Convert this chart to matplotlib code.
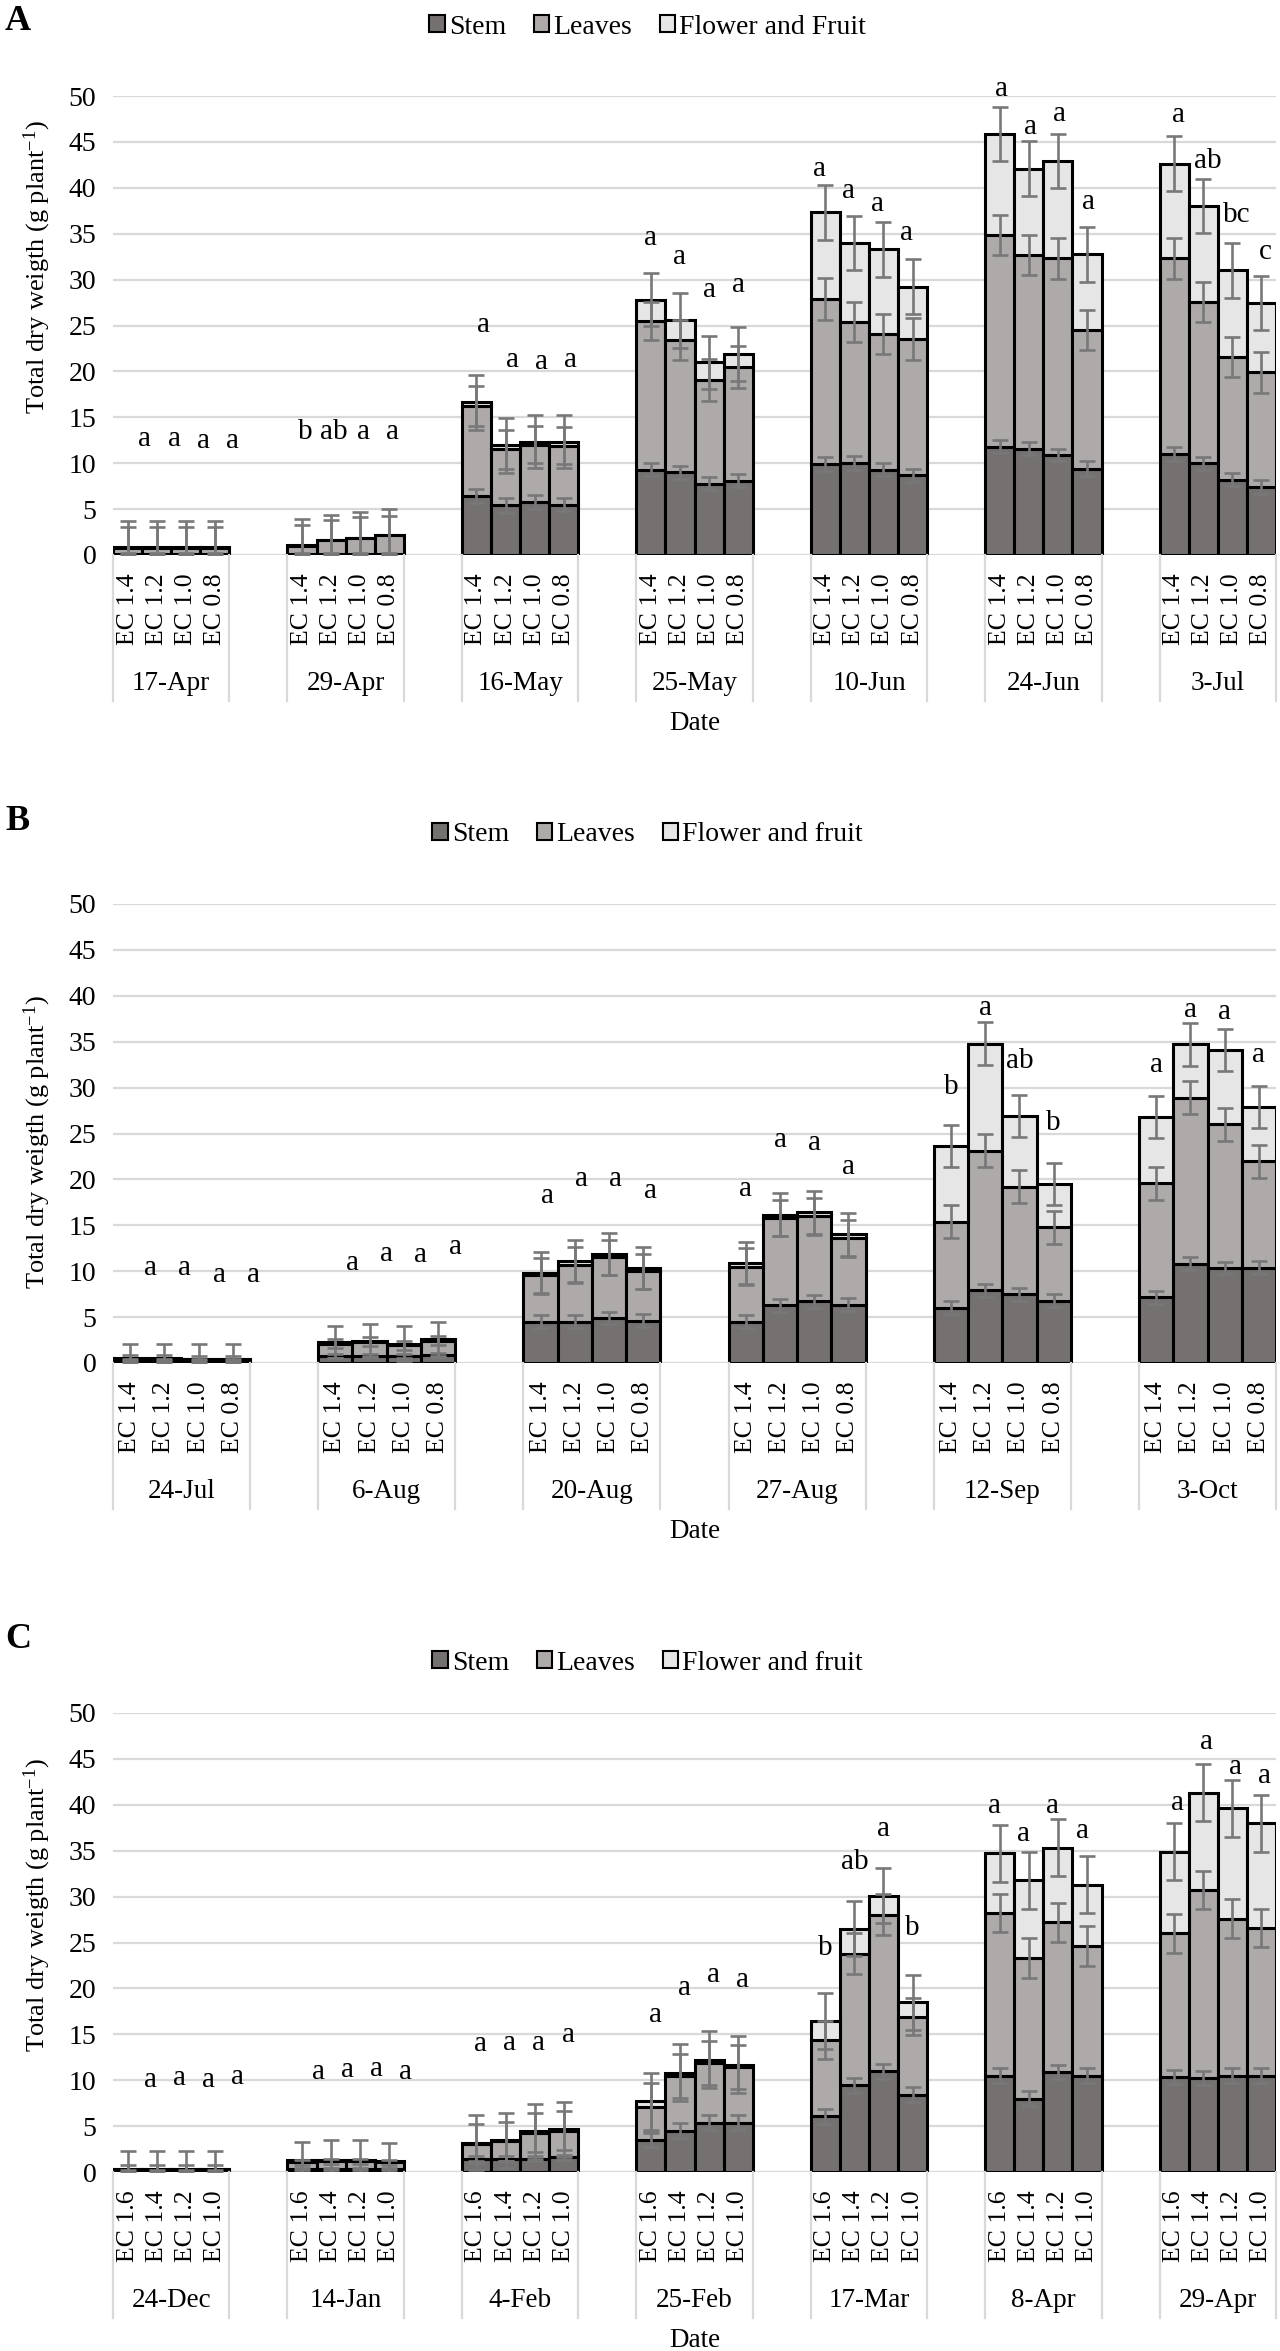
import numpy as np
import matplotlib
matplotlib.use('Agg')
import matplotlib.pyplot as plt
from matplotlib.patches import Patch
from matplotlib.transforms import blended_transform_factory

plt.rcParams['font.family'] = ['Liberation Serif', 'DejaVu Serif']
plt.rcParams['mathtext.fontset'] = 'custom'
plt.rcParams['mathtext.rm'] = 'Liberation Serif'
plt.rcParams['mathtext.it'] = 'Liberation Serif:italic'

# ---------------- panel A ----------------
dates_a = ['17-Apr', '29-Apr', '16-May', '25-May', '10-Jun', '24-Jun', '3-Jul']
ec_a = ['EC 1.4', 'EC 1.2', 'EC 1.0', 'EC 0.8']
stem_a = [0.15, 0.15, 0.15, 0.15,
          0.15, 0.15, 0.15, 0.15,
          6.45, 5.4, 5.8, 5.5,
          9.3, 9.0, 7.75, 8.1,
          9.9, 10.0, 9.3, 8.7,
          11.8, 11.6, 10.9, 9.4,
          11.0, 10.0, 8.2, 7.4]
leaves_a = [0.65, 0.65, 0.65, 0.65,
            0.85, 1.45, 1.65, 2.0,
            9.75, 6.1, 6.2, 6.4,
            16.2, 14.4, 11.35, 12.4,
            17.95, 15.4, 14.8, 14.85,
            23.05, 21.05, 21.4, 15.1,
            21.3, 17.55, 13.35, 12.5]
flower_a = [0.05, 0.05, 0.05, 0.05,
            0.05, 0.05, 0.05, 0.05,
            0.45, 0.43, 0.36, 0.46,
            2.3, 2.15, 1.9, 1.35,
            9.5, 8.6, 9.2, 5.65,
            11.0, 9.45, 10.65, 8.25,
            10.3, 10.45, 9.45, 7.55]
err_stem_a = [0.1, 0.1, 0.1, 0.1,
              0.1, 0.1, 0.1, 0.1,
              0.75, 0.8, 0.75, 0.7,
              0.7, 0.7, 0.7, 0.7,
              0.75, 0.75, 0.7, 0.7,
              0.7, 0.7, 0.7, 0.8,
              0.75, 0.7, 0.7, 0.75]
err_leaves_a = [2.2, 2.2, 2.2, 2.2,
                2.3, 2.2, 2.3, 2.1,
                2.2, 2.1, 2.0, 2.0,
                2.1, 2.2, 2.3, 2.3,
                2.3, 2.2, 2.2, 2.3,
                2.2, 2.2, 2.2, 2.2,
                2.2, 2.2, 2.2, 2.2]
err_flower_a = [2.8, 2.8, 2.8, 2.8,
                2.85, 2.75, 2.85, 2.8,
                3.0, 3.0, 2.85, 2.85,
                2.9, 2.95, 2.9, 2.95,
                3.0, 2.95, 3.0, 3.0,
                2.95, 3.0, 2.95, 3.0,
                3.0, 2.95, 3.0, 2.95]
letters_a = ['a', 'a', 'a', 'a',
             'b', 'ab', 'a', 'a',
             'a', 'a', 'a', 'a',
             'a', 'a', 'a', 'a',
             'a', 'a', 'a', 'a',
             'a', 'a', 'a', 'a',
             'a', 'ab', 'bc', 'c']
letter_y_a = [12.6, 12.6, 12.4, 12.4,
              13.4, 13.4, 13.4, 13.4,
              25.0, 21.2, 21.0, 21.2,
              34.5, 32.5, 28.9, 29.4,
              42.1, 39.6, 38.2, 35.1,
              50.8, 46.65, 48.0, 38.5,
              47.9, 42.9, 37.0, 33.0]
letter_dx_a = [0.6, 0.1, 0.25, 0.0, -0.2, 0.05, 0.15]

# ---------------- panel B ----------------
dates_b = ['24-Jul', '6-Aug', '20-Aug', '27-Aug', '12-Sep', '3-Oct']
ec_b = ['EC 1.4', 'EC 1.2', 'EC 1.0', 'EC 0.8']
stem_b = [0.3, 0.3, 0.3, 0.3,
          0.75, 0.8, 0.75, 0.85,
          4.5, 4.5, 4.9, 4.6,
          4.5, 6.3, 6.7, 6.35,
          6.0, 7.9, 7.5, 6.8,
          7.15, 10.8, 10.35, 10.4]
leaves_b = [0.15, 0.15, 0.1, 0.1,
            1.35, 1.5, 1.2, 1.6,
            5.05, 6.2, 6.6, 5.4,
            6.0, 9.5, 9.27, 7.25,
            9.4, 15.2, 11.7, 8.0,
            12.45, 18.1, 15.65, 11.6]
flower_b = [0.05, 0.05, 0.05, 0.05,
            0.15, 0.15, 0.15, 0.15,
            0.25, 0.37, 0.37, 0.35,
            0.4, 0.35, 0.43, 0.4,
            8.2, 11.7, 7.7, 4.7,
            7.2, 5.8, 8.1, 5.85]
err_stem_b = [0.1, 0.1, 0.1, 0.1,
              0.2, 0.2, 0.2, 0.2,
              0.7, 0.7, 0.7, 0.7,
              0.7, 0.7, 0.7, 0.7,
              0.7, 0.7, 0.7, 0.7,
              0.7, 0.7, 0.7, 0.7]
err_leaves_b = [0.4, 0.4, 0.4, 0.4,
                0.5, 0.5, 0.5, 0.5,
                1.9, 1.9, 1.9, 1.9,
                2.0, 2.0, 2.0, 2.0,
                1.8, 1.8, 1.8, 1.8,
                1.8, 1.8, 1.8, 1.8]
err_flower_b = [1.6, 1.6, 1.6, 1.6,
                1.75, 1.8, 1.9, 1.85,
                2.3, 2.35, 2.3, 2.3,
                2.3, 2.35, 2.3, 2.3,
                2.3, 2.3, 2.3, 2.3,
                2.25, 2.3, 2.3, 2.3]
letters_b = ['a', 'a', 'a', 'a',
             'a', 'a', 'a', 'a',
             'a', 'a', 'a', 'a',
             'a', 'a', 'a', 'a',
             'b', 'a', 'ab', 'b',
             'a', 'a', 'a', 'a']
letter_y_b = [10.35, 10.35, 9.6, 9.6,
              10.9, 11.9, 11.8, 12.6,
              18.15, 20.0, 20.0, 18.7,
              19.0, 24.3, 24.0, 21.35,
              30.1, 38.7, 32.9, 26.1,
              32.5, 38.5, 38.2, 33.5]
letter_dx_b = [0.6, 0.5, 0.2, 0.0, 0.0, 0.0]

# ---------------- panel C ----------------
dates_c = ['24-Dec', '14-Jan', '4-Feb', '25-Feb', '17-Mar', '8-Apr', '29-Apr']
ec_c = ['EC 1.6', 'EC 1.4', 'EC 1.2', 'EC 1.0']
stem_c = [0.15, 0.15, 0.15, 0.15,
          0.35, 0.35, 0.35, 0.35,
          1.45, 1.45, 1.45, 1.6,
          3.5, 4.5, 5.37, 5.37,
          6.06, 9.44, 10.97, 8.42,
          10.5, 8.0, 10.9, 10.5,
          10.35, 10.24, 10.5, 10.5]
leaves_c = [0.13, 0.13, 0.13, 0.13,
            0.7, 0.8, 0.8, 0.7,
            1.65, 1.9, 2.85, 2.9,
            3.6, 6.0, 6.53, 6.03,
            8.34, 14.36, 17.06, 8.48,
            17.7, 15.3, 16.3, 14.1,
            15.65, 20.46, 17.1, 16.1]
flower_c = [0.04, 0.04, 0.04, 0.04,
            0.22, 0.19, 0.19, 0.15,
            0.1, 0.1, 0.13, 0.15,
            0.6, 0.3, 0.34, 0.3,
            2.05, 2.7, 2.04, 1.6,
            6.5, 8.5, 8.1, 6.7,
            8.9, 10.6, 12.0, 11.4]
err_stem_c = [0.1, 0.1, 0.1, 0.1,
              0.1, 0.1, 0.1, 0.1,
              0.3, 0.3, 0.3, 0.3,
              0.8, 0.8, 0.8, 0.8,
              0.8, 0.8, 0.8, 0.8,
              0.8, 0.8, 0.8, 0.8,
              0.8, 0.8, 0.8, 0.8]
err_leaves_c = [0.5, 0.5, 0.5, 0.5,
                0.3, 0.3, 0.3, 0.3,
                2.1, 2.1, 2.1, 2.1,
                2.6, 2.4, 2.4, 2.4,
                2.1, 2.2, 2.2, 2.0,
                2.1, 2.15, 2.15, 2.2,
                2.1, 2.1, 2.1, 2.1]
err_flower_c = [2.0, 2.0, 2.0, 2.0,
                2.0, 2.1, 2.1, 2.0,
                3.0, 3.0, 3.0, 3.0,
                3.1, 3.1, 3.1, 3.1,
                3.0, 3.0, 3.0, 3.0,
                3.1, 3.1, 3.1, 3.1,
                3.1, 3.1, 3.1, 3.1]
letters_c = ['a', 'a', 'a', 'a',
             'a', 'a', 'a', 'a',
             'a', 'a', 'a', 'a',
             'a', 'a', 'a', 'a',
             'b', 'ab', 'a', 'b',
             'a', 'a', 'a', 'a',
             'a', 'a', 'a', 'a']
letter_y_c = [10.0, 10.2, 10.0, 10.35,
              10.9, 11.07, 11.25, 10.9,
              13.9, 14.1, 14.1, 14.9,
              17.1, 20.0, 21.5, 20.95,
              24.4, 33.8, 37.4, 26.6,
              39.9, 36.8, 39.9, 37.1,
              40.2, 46.8, 44.1, 43.1]
letter_dx_c = [0.78, 0.57, 0.15, 0.15, 0.0, -0.17, 0.1]

C_STEM = '#767171'
C_LEAVES = '#aeaaaa'
C_FLOWER = '#e7e6e6'
C_ERR = '#787878'
C_GRID = '#d9d9d9'


def draw_panel(ax, dates, ecs, stem, leaves, flower, err_s, err_l, err_f,
               letters, letter_y, letter_dx):
    n = len(dates)
    x = np.array([g * 6 + i + 0.5 for g in range(n) for i in range(4)])
    stem = np.array(stem)
    leaves = np.array(leaves)
    flower = np.array(flower)
    kw = dict(width=1.0, edgecolor='black', linewidth=2.2, zorder=2)
    ax.bar(x, stem, color=C_STEM, **kw)
    ax.bar(x, leaves, bottom=stem, color=C_LEAVES, **kw)
    ax.bar(x, flower, bottom=stem + leaves, color=C_FLOWER, **kw)

    ekw = dict(fmt='none', ecolor=C_ERR, elinewidth=1.9, capsize=5.5,
               capthick=1.9, zorder=4)
    ax.errorbar(x, stem, yerr=err_s, **ekw)
    ax.errorbar(x, stem + leaves, yerr=err_l, **ekw)
    ax.errorbar(x, stem + leaves + flower, yerr=err_f, **ekw)

    for k in range(len(x)):
        ax.text(x[k] + letter_dx[k // 4], letter_y[k], letters[k],
                ha='center', va='center', fontsize=21, zorder=5)

    ax.set_xlim(0, n * 6 - 2)
    ax.set_ylim(0, 50)
    ax.set_yticks(range(0, 51, 5))
    ax.yaxis.grid(True, color=C_GRID, linewidth=1.6)
    ax.set_axisbelow(True)
    for s in ax.spines.values():
        s.set_visible(False)
    ax.tick_params(axis='y', length=0, pad=12, labelsize=20)
    ax.set_xticks(x)
    ax.set_xticklabels(ecs * n, rotation=90, fontsize=18.5)
    ax.tick_params(axis='x', length=0, pad=13.5)

    trans = blended_transform_factory(ax.transData, ax.transAxes)
    for g in range(n):
        for xe in (g * 6, g * 6 + 4):
            ax.plot([xe, xe], [0, -0.318], transform=trans, color=C_GRID,
                    linewidth=1.6, clip_on=False)
        ax.text(g * 6 + 2, -0.281, dates[g], transform=trans,
                ha='center', va='center', fontsize=19.5)
    ax.text(0.5, -0.368, 'Date', transform=ax.transAxes,
            ha='center', va='center', fontsize=19.5)


fig = plt.figure(figsize=(12.8, 23.51), dpi=100)
H = 2351.0
left = 113 / 1280.0
width = 1163 / 1280.0
height = 459 / H

panels = [
    dict(bottom=1 - 555 / H, tag='A', tag_y=22, leg_y=27, title_y=267,
         fruit='Flower and Fruit',
         data=(dates_a, ec_a, stem_a, leaves_a, flower_a, err_stem_a,
               err_leaves_a, err_flower_a, letters_a, letter_y_a, letter_dx_a)),
    dict(bottom=1 - 1363 / H, tag='B', tag_y=822, leg_y=835, title_y=1142,
         fruit='Flower and fruit',
         data=(dates_b, ec_b, stem_b, leaves_b, flower_b, err_stem_b,
               err_leaves_b, err_flower_b, letters_b, letter_y_b, letter_dx_b)),
    dict(bottom=1 - 2172 / H, tag='C', tag_y=1640, leg_y=1663, title_y=1905,
         fruit='Flower and fruit',
         data=(dates_c, ec_c, stem_c, leaves_c, flower_c, err_stem_c,
               err_leaves_c, err_flower_c, letters_c, letter_y_c, letter_dx_c)),
]

for p in panels:
    ax = fig.add_axes([left, p['bottom'], width, height])
    draw_panel(ax, *p['data'])
    fig.text(0.004, 1 - p['tag_y'] / H, p['tag'], fontsize=26,
             fontweight='bold', ha='left', va='center')
    fig.text(37 / 1280.0, 1 - p['title_y'] / H,
             r'Total dry weigth (g plant$^{-1}$)', rotation=90,
             ha='center', va='center', fontsize=19)
    handles = [Patch(facecolor=C_STEM, edgecolor='black', linewidth=1.5, label='Stem'),
               Patch(facecolor=C_LEAVES, edgecolor='black', linewidth=1.5, label='Leaves'),
               Patch(facecolor=C_FLOWER, edgecolor='black', linewidth=1.5, label=p['fruit'])]
    fig.legend(handles=handles, loc='center', bbox_to_anchor=(0.506, 1 - p['leg_y'] / H),
               ncol=3, frameon=False, fontsize=20, handlelength=0.55,
               handleheight=0.55, handletextpad=0.15, columnspacing=1.0,
               borderaxespad=0)

fig.savefig('out.png', dpi=100)
